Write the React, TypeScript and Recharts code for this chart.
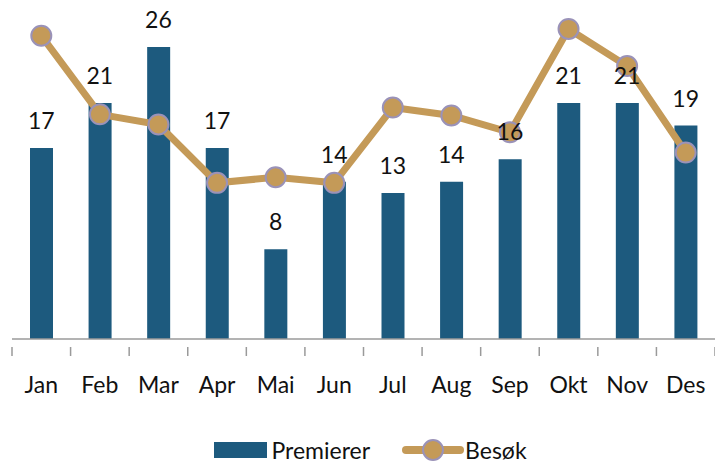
import { ComposedChart, Bar, Line, XAxis, YAxis, Legend, LabelList } from 'recharts'

const months = ['Jan', 'Feb', 'Mar', 'Apr', 'Mai', 'Jun', 'Jul', 'Aug', 'Sep', 'Okt', 'Nov', 'Des']
const premierer = [17, 21, 26, 17, 8, 14, 13, 14, 16, 21, 21, 19]
const besok = [27.0, 20.0, 19.1, 13.9, 14.4, 13.9, 20.6, 19.9, 18.4, 27.6, 24.3, 16.6]

const data = months.map((m, i) => ({ month: m, premierer: premierer[i], besok: besok[i] }))

const BLUE = '#1d5a7e'
const TAN = '#c49a58'
const RING = '#9a92b8'
const FONT = 'Lato, "Open Sans", sans-serif'

function MonthTick(props: any) {
  const { x, y, payload, index } = props
  const half = payload?.offset ?? 29.3
  return (
    <g>
      <line x1={x - half} y1={y} x2={x - half} y2={y + 9} stroke="#9a9a9a" strokeWidth={1.5} />
      {index === months.length - 1 && (
        <line x1={x + half} y1={y} x2={x + half} y2={y + 9} stroke="#9a9a9a" strokeWidth={1.5} />
      )}
      <text x={x} y={y + 46} textAnchor="middle" fontSize={23} fontFamily={FONT} fill="#111">
        {payload.value}
      </text>
    </g>
  )
}

function LegendBox() {
  return (
    <div
      style={{
        display: 'flex',
        justifyContent: 'center',
        alignItems: 'center',
        fontFamily: FONT,
        fontSize: 23,
        color: '#111',
        paddingLeft: 14,
        paddingTop: 11,
      }}
    >
      <svg width={54} height={16} style={{ marginRight: 3 }}>
        <rect x={0} y={0} width={53} height={16} fill={BLUE} />
      </svg>
      <span>Premierer</span>
      <svg width={62} height={26} style={{ marginLeft: 32, marginRight: 1 }}>
        <line x1={4} y1={13} x2={58} y2={13} stroke={TAN} strokeWidth={8} strokeLinecap="round" />
        <circle cx={31} cy={13} r={10} fill={TAN} stroke={RING} strokeWidth={2} />
      </svg>
      <span>Besøk</span>
    </div>
  )
}

export default function App() {
  return (
    <div style={{ position: 'absolute', left: 0, top: 0, background: '#fff' }}>
      <ComposedChart width={715} height={465} data={data} margin={{ top: 2, right: 0, left: 12, bottom: 0 }}>
        <XAxis
          dataKey="month"
          height={86}
          tickLine={false}
          axisLine={{ stroke: '#9a9a9a', strokeWidth: 1.5 }}
          tick={<MonthTick />}
          interval={0}
        />
        <YAxis hide domain={[0, 30]} />
        <Legend verticalAlign="bottom" height={40} content={<LegendBox />} />
        <Bar dataKey="premierer" name="Premierer" fill={BLUE} barSize={23} isAnimationActive={false} />
        <Line
          dataKey="besok"
          name="Besøk"
          stroke={TAN}
          strokeWidth={7}
          dot={{ r: 10, fill: TAN, stroke: RING, strokeWidth: 2 }}
          activeDot={false}
          isAnimationActive={false}
        />
        <Line
          dataKey="premierer"
          stroke="none"
          dot={false}
          activeDot={false}
          legendType="none"
          isAnimationActive={false}
        >
          <LabelList dataKey="premierer" position="top" offset={19} fontSize={23} fontFamily={FONT} fill="#111" />
        </Line>
      </ComposedChart>
    </div>
  )
}
